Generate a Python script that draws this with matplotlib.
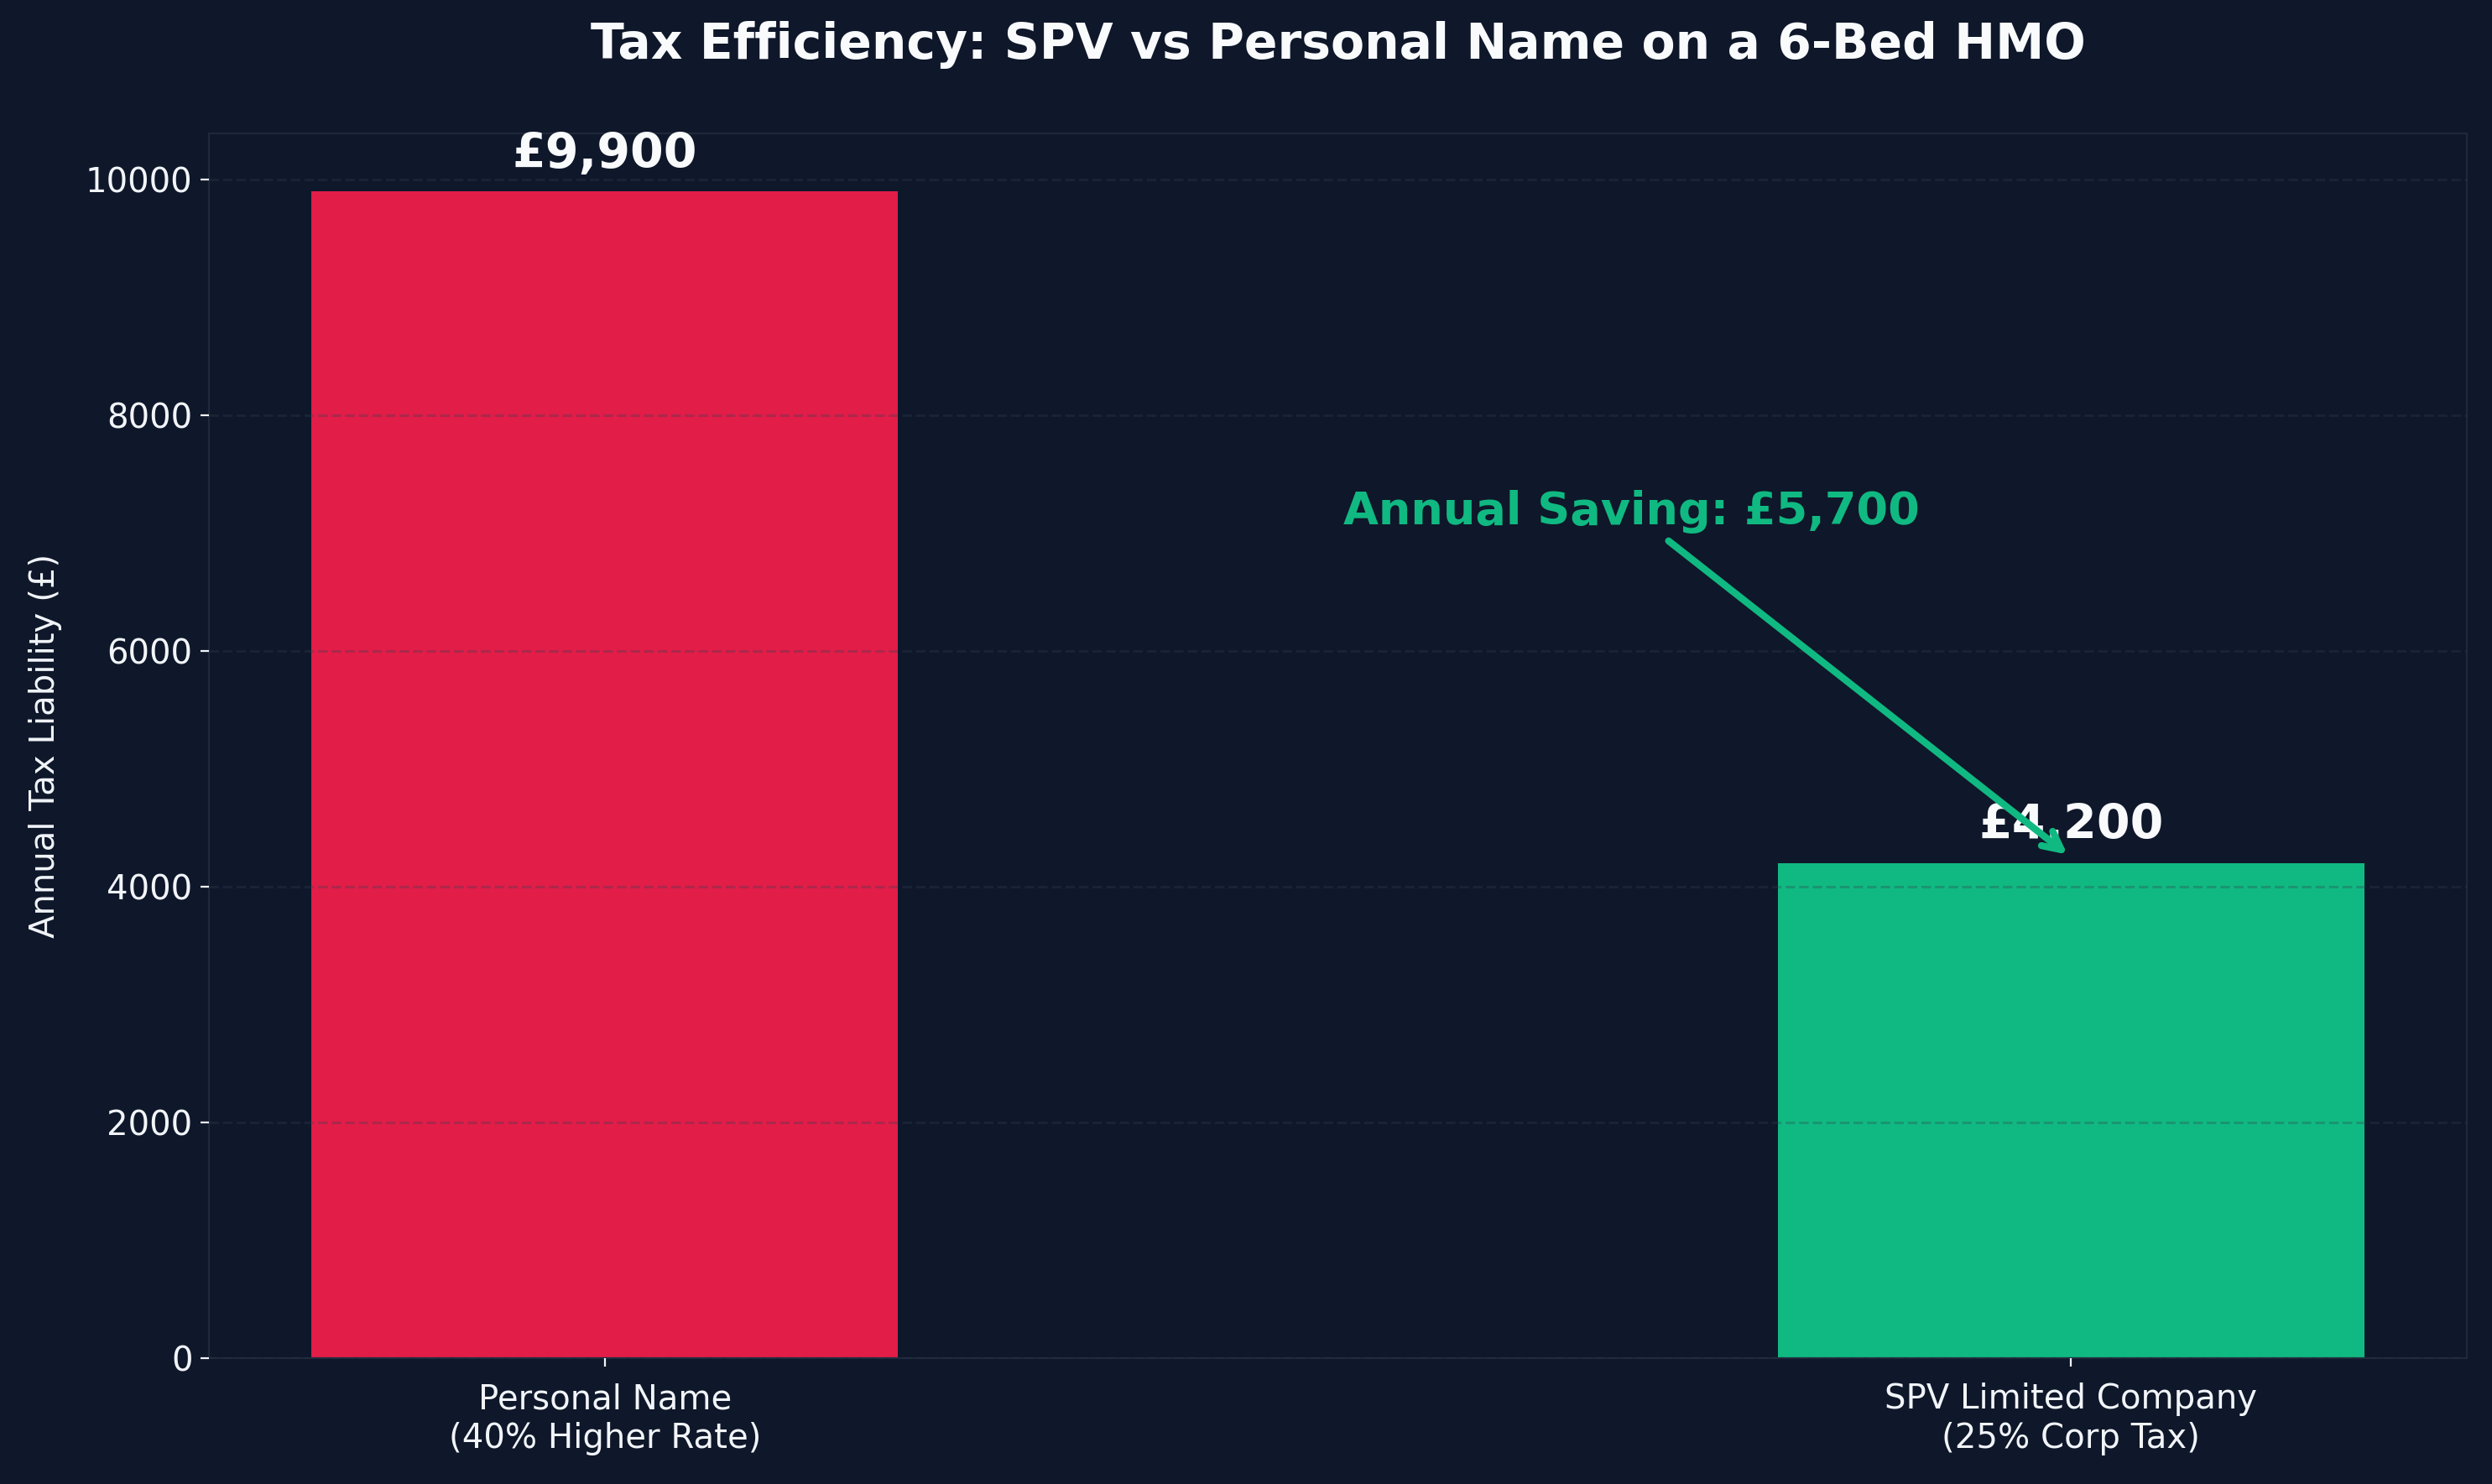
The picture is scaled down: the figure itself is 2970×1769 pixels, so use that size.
import matplotlib.pyplot as plt
import numpy as np

categories = ['Personal Name\n(40% Higher Rate)', 'SPV Limited Company\n(25% Corp Tax)']
tax_liability = [9900, 4200]
bar_colors = ['#e11d48', '#10b981']
saving = tax_liability[0] - tax_liability[1]

bg = '#0f172a'
fig = plt.figure(figsize=(14.85, 8.845), dpi=200, facecolor=bg)
ax = fig.add_axes([0.0838, 0.0847, 0.9062, 0.8255])
ax.set_facecolor(bg)

x = np.arange(len(categories))
bars = ax.bar(x, tax_liability, width=0.4, color=bar_colors, zorder=2)
ax.grid(axis='y', linestyle='--', color='#334155', alpha=0.3, linewidth=1.1, zorder=3)
ax.set_axisbelow(False)

for rect, val in zip(bars, tax_liability):
    ax.text(rect.get_x() + rect.get_width() / 2, val + 120, '£{:,}'.format(val),
            ha='center', va='bottom', color='#f8fafc', fontsize=20.5, fontweight='bold')

ax.annotate('Annual Saving: £{:,}'.format(saving), xy=(1, 4250), xytext=(0.7, 7000),
            ha='center', va='bottom', color='#10b981', fontsize=19.5, fontweight='bold',
            arrowprops=dict(arrowstyle='->', color='#10b981', lw=3))

ax.set_xticks(x)
ax.set_xticklabels(categories, color='#f1f5f9', fontsize=14.5)
ax.tick_params(axis='y', colors='#f1f5f9', labelsize=14.5)
ax.tick_params(axis='x', colors='#f1f5f9', pad=7)
ax.set_ylabel('Annual Tax Liability (£)', color='#f1f5f9', fontsize=14.5, labelpad=10)
ax.set_title('Tax Efficiency: SPV vs Personal Name on a 6-Bed HMO', color='#f8fafc',
             fontsize=21, fontweight='bold', pad=32)
for s in ax.spines.values():
    s.set_color('#1e293b')

fig.savefig('out.png', facecolor=bg)
